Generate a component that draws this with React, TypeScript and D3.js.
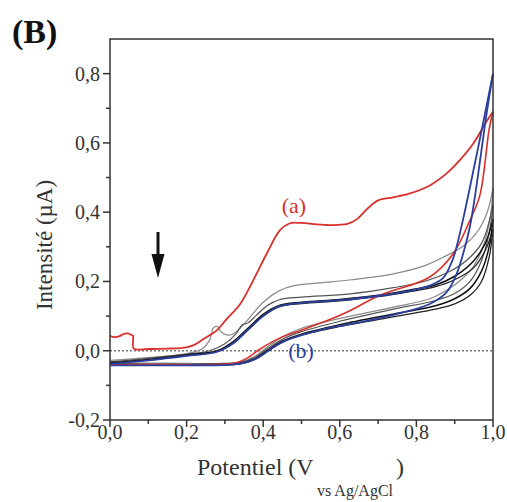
import React from "react";
import * as d3 from "d3";

type P = [number, number];

const xTicks = [0, 0.2, 0.4, 0.6, 0.8, 1.0];
const xMinor = [0.1, 0.3, 0.5, 0.7, 0.9];
const yTicks = [-0.2, 0, 0.2, 0.4, 0.6, 0.8];
const yMinor = [-0.1, 0.1, 0.3, 0.5, 0.7];

const redForward: P[] = [[0,0.043],[0.012,0.039],[0.025,0.042],[0.035,0.048],[0.045,0.05],[0.055,0.046],[0.06,0.043],[0.062,0.006],[0.1,0.005],[0.15,0.006],[0.2,0.01],[0.22,0.017],[0.244,0.034],[0.278,0.058],[0.305,0.092],[0.34,0.135],[0.374,0.203],[0.409,0.28],[0.444,0.348],[0.47,0.368],[0.496,0.369],[0.566,0.363],[0.62,0.366],[0.645,0.38],[0.672,0.41],[0.7,0.434],[0.74,0.443],[0.783,0.454],[0.836,0.478],[0.879,0.512],[0.914,0.551],[0.949,0.599],[0.983,0.662],[1.0,0.69]];
const redReverse: P[] = [[1.0,0.69],[0.99,0.64],[0.966,0.45],[0.94,0.377],[0.896,0.28],[0.835,0.213],[0.705,0.16],[0.618,0.111],[0.574,0.09],[0.496,0.058],[0.45,0.04],[0.392,0.005],[0.36,-0.02],[0.33,-0.035],[0.28,-0.04],[0.15,-0.04],[0,-0.04]];

const g1Forward: P[] = [[0,-0.028],[0.1,-0.02],[0.2,-0.008],[0.24,0.005],[0.26,0.03],[0.27,0.066],[0.28,0.07],[0.29,0.055],[0.31,0.045],[0.33,0.055],[0.36,0.09],[0.4,0.14],[0.44,0.172],[0.48,0.188],[0.55,0.196],[0.63,0.205],[0.74,0.222],[0.82,0.245],[0.87,0.27],[0.92,0.3],[0.96,0.345],[0.985,0.4],[1.0,0.47]];
const g1Reverse: P[] = [[1.0,0.47],[0.992,0.38],[0.974,0.3],[0.95,0.245],[0.922,0.21],[0.88,0.175],[0.835,0.15],[0.74,0.126],[0.65,0.105],[0.574,0.087],[0.5,0.065],[0.45,0.04],[0.41,0.01],[0.38,-0.015],[0.34,-0.032],[0.28,-0.037],[0.15,-0.036],[0,-0.035]];

const g2Forward: P[] = [[0,-0.032],[0.1,-0.022],[0.2,-0.01],[0.26,0.0],[0.3,0.02],[0.33,0.05],[0.345,0.075],[0.36,0.08],[0.38,0.1],[0.41,0.13],[0.444,0.148],[0.5,0.155],[0.627,0.164],[0.74,0.182],[0.82,0.2],[0.88,0.225],[0.93,0.26],[0.97,0.31],[1.0,0.42]];
const g2Reverse: P[] = [[1.0,0.42],[0.99,0.34],[0.97,0.26],[0.94,0.2],[0.9,0.165],[0.85,0.145],[0.74,0.12],[0.6,0.085],[0.5,0.055],[0.45,0.033],[0.41,0.005],[0.38,-0.018],[0.34,-0.034],[0.25,-0.038],[0,-0.037]];

const kForward: P[] = [[0,-0.035],[0.1,-0.025],[0.2,-0.012],[0.28,0.0],[0.32,0.025],[0.36,0.065],[0.4,0.105],[0.44,0.13],[0.5,0.14],[0.6,0.148],[0.7,0.16],[0.78,0.175],[0.85,0.19],[0.9,0.215],[0.95,0.26],[0.98,0.31],[1.0,0.38]];
const kReverse: P[] = [[1.0,0.38],[0.99,0.3],[0.97,0.23],[0.94,0.18],[0.9,0.15],[0.85,0.13],[0.75,0.108],[0.6,0.075],[0.5,0.048],[0.45,0.028],[0.41,0.0],[0.38,-0.022],[0.34,-0.036],[0.25,-0.04],[0,-0.04]];

const k2Forward: P[] = [[0,-0.036],[0.1,-0.027],[0.2,-0.014],[0.28,-0.002],[0.32,0.02],[0.36,0.06],[0.4,0.1],[0.44,0.126],[0.5,0.136],[0.6,0.144],[0.7,0.156],[0.78,0.17],[0.85,0.185],[0.9,0.205],[0.95,0.24],[0.98,0.29],[1.0,0.35]];
const k2Reverse: P[] = [[1.0,0.35],[0.99,0.27],[0.97,0.2],[0.94,0.16],[0.9,0.135],[0.85,0.12],[0.75,0.1],[0.6,0.07],[0.5,0.045],[0.45,0.025],[0.41,-0.003],[0.38,-0.024],[0.34,-0.038],[0.25,-0.041],[0,-0.041]];

const blueForward: P[] = [[0,-0.038],[0.1,-0.028],[0.2,-0.015],[0.28,-0.003],[0.32,0.02],[0.36,0.06],[0.4,0.1],[0.44,0.128],[0.5,0.138],[0.6,0.146],[0.7,0.158],[0.78,0.172],[0.84,0.19],[0.87,0.21],[0.89,0.25],[0.9,0.28],[0.92,0.37],[0.96,0.58],[1.0,0.8]];
const blueReverse: P[] = [[1.0,0.8],[0.98,0.66],[0.96,0.5],[0.94,0.36],[0.922,0.28],[0.905,0.222],[0.879,0.169],[0.835,0.135],[0.748,0.106],[0.618,0.075],[0.574,0.067],[0.5,0.045],[0.45,0.025],[0.42,0.005],[0.39,-0.018],[0.36,-0.032],[0.32,-0.04],[0.2,-0.042],[0,-0.042]];

const series: { data: P[]; color: string; width: number }[] = [
  { data: g1Forward, color: "#8a8a8a", width: 1.2 },
  { data: g1Reverse, color: "#8a8a8a", width: 1.2 },
  { data: g2Forward, color: "#555", width: 1.2 },
  { data: g2Reverse, color: "#555", width: 1.2 },
  { data: k2Forward, color: "#222", width: 1.3 },
  { data: k2Reverse, color: "#222", width: 1.3 },
  { data: kForward, color: "#111", width: 1.5 },
  { data: kReverse, color: "#111", width: 1.5 },
  { data: redReverse, color: "#d8302c", width: 1.6 },
  { data: redForward, color: "#d8302c", width: 1.8 },
  { data: blueForward, color: "#2c3f9e", width: 1.8 },
  { data: blueReverse, color: "#2c3f9e", width: 1.8 },
];

const fmt = (v: number) => d3.format(".1f")(v).replace(".", ",").replace("−", "-");

export default function App() {
  const left = 110, right = 493, top = 39, bottom = 420;
  const x = d3.scaleLinear().domain([0, 1]).range([left, right]);
  const y = d3.scaleLinear().domain([-0.2, 0.9]).range([bottom, top]);
  const line = d3.line<P>().x(d => x(d[0])).y(d => y(d[1])).curve(d3.curveCatmullRom.alpha(0.5));
  const font = "'Liberation Serif', 'Times New Roman', serif";
  const axisColor = "#333";
  return (
    <svg width={507} height={502} style={{ position: "absolute", left: 0, top: 0, background: "#fff" }} fontFamily={font}>
      <rect x={0} y={0} width={507} height={502} fill="#fff" />
      <text x={12} y={43} fontSize={34} fontWeight="bold" fill="#111">(B)</text>
      <line x1={x(0)} x2={x(1)} y1={y(0)} y2={y(0)} stroke="#777" strokeWidth={1.6} strokeDasharray="2,2" />
      {series.map((s, i) => (
        <path key={i} d={line(s.data) || ""} fill="none" stroke={s.color} strokeWidth={s.width} strokeLinejoin="round" />
      ))}
      <rect x={left} y={top} width={right - left} height={bottom - top} fill="none" stroke={axisColor} strokeWidth={1.5} />
      {yTicks.map(t => (
        <g key={"y" + t}>
          <line x1={left - 7} x2={left} y1={y(t)} y2={y(t)} stroke={axisColor} strokeWidth={1.5} />
          <text x={left - 10} y={y(t)} dy="0.35em" textAnchor="end" fontSize={20} fill="#333">{fmt(t)}</text>
        </g>
      ))}
      {yMinor.map(t => (
        <line key={"ym" + t} x1={left - 4} x2={left} y1={y(t)} y2={y(t)} stroke={axisColor} strokeWidth={1.5} />
      ))}
      {xTicks.map(t => (
        <g key={"x" + t}>
          <line x1={x(t)} x2={x(t)} y1={bottom} y2={bottom + 7} stroke={axisColor} strokeWidth={1.5} />
          <text x={x(t)} y={bottom + 19} textAnchor="middle" fontSize={20} fill="#333">{fmt(t)}</text>
        </g>
      ))}
      {xMinor.map(t => (
        <line key={"xm" + t} x1={x(t)} x2={x(t)} y1={bottom} y2={bottom + 4} stroke={axisColor} strokeWidth={1.5} />
      ))}
      <text transform="translate(52,245) rotate(-90)" textAnchor="middle" fontSize={23} fill="#333">Intensité (µA)</text>
      <text x={197} y={475} fontSize={24} fill="#333">Potentiel (V</text>
      <text x={396} y={475} fontSize={24} fill="#333">)</text>
      <text x={317} y={496} fontSize={16} fill="#333">vs Ag/AgCl</text>
      <text x={294} y={213} textAnchor="middle" fontSize={22} fill="#d8302c">(a)</text>
      <text x={301} y={358} textAnchor="middle" fontSize={22} fill="#2c3f9e">(b)</text>
      <line x1={158} x2={158} y1={232} y2={260} stroke="#111" strokeWidth={3} />
      <path d="M151.5,254 L164.5,254 L158,278 Z" fill="#111" />
    </svg>
  );
}
